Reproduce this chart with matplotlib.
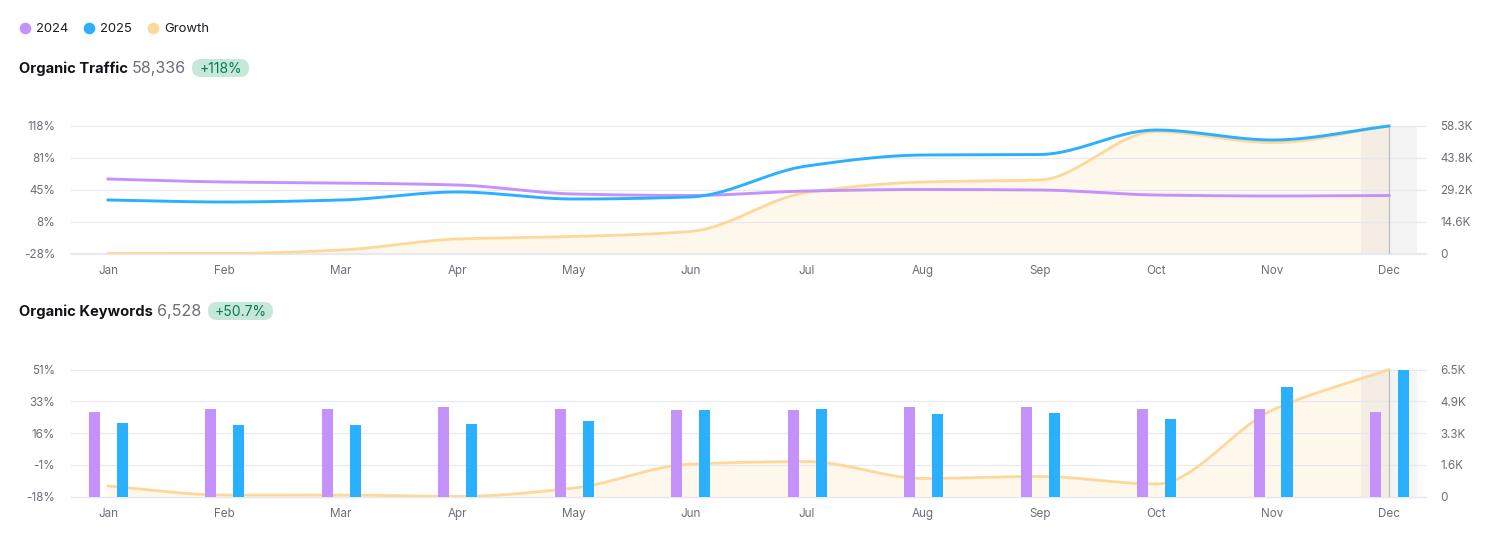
import numpy as np
import matplotlib
matplotlib.use("Agg")
import matplotlib.pyplot as plt
from matplotlib.lines import Line2D
from matplotlib.patches import FancyBboxPatch

plt.rcParams['font.family'] = ['Inter', 'DejaVu Sans']

months = ['Jan', 'Feb', 'Mar', 'Apr', 'May', 'Jun', 'Jul', 'Aug', 'Sep', 'Oct', 'Nov', 'Dec']

traffic_2024 = [34080, 32710, 32250, 31340, 27220, 26535, 28590, 29280, 29050, 26760, 26300, 26535]
traffic_2025 = [24480, 23560, 24480, 28140, 24930, 25850, 40030, 45065, 45290, 56500, 51930, 58336]
traffic_growth = [-28, -28, -24, -11.4, -8.5, -2.8, 41.9, 53.9, 56.2, 111.7, 99, 118]

keywords_2024 = [4318, 4480, 4520, 4590, 4500, 4470, 4446, 4600, 4575, 4498, 4472, 4318]
keywords_2025 = [3778, 3650, 3675, 3701, 3906, 4440, 4498, 4215, 4292, 3984, 5654, 6528]
keywords_growth = [-12.3, -17.2, -17.2, -18, -13.4, -0.4, 1, -8.2, -7.1, -11.2, 29, 51]

traffic_left_ticks = [-28, 8.5, 45, 81.5, 118]
traffic_left_labels = ['-28%', '8%', '45%', '81%', '118%']
traffic_right_ticks = [0, 14584, 29168, 43752, 58336]
traffic_right_labels = ['0', '14.6K', '29.2K', '43.8K', '58.3K']

keywords_left_ticks = [-18, -0.75, 16.5, 33.75, 51]
keywords_left_labels = ['-18%', '-1%', '16%', '33%', '51%']
keywords_right_ticks = [0, 1632, 3264, 4896, 6528]
keywords_right_labels = ['0', '1.6K', '3.3K', '4.9K', '6.5K']

PURPLE, BLUE, GOLD = '#c592fb', '#2ab0ff', '#fdd89b'
GRID, TICK, INK = '#e8e9ee', '#6c6e79', '#121318'
W, H = 1500, 552


def monotone(y, n=40):
    """Monotone cubic rendering of the read values, as the chart's smooth curve."""
    y = np.asarray(y, float)
    x = np.arange(len(y), dtype=float)
    d = np.diff(y)
    m = np.zeros(len(y))
    for i in range(1, len(y) - 1):
        if d[i - 1] * d[i] > 0:
            m[i] = 2 * d[i - 1] * d[i] / (d[i - 1] + d[i])
    m[0], m[-1] = d[0], d[-1]
    xs, ys = [], []
    for i in range(len(y) - 1):
        t = np.linspace(0, 1, n, endpoint=i == len(y) - 2)
        h00 = 2 * t**3 - 3 * t**2 + 1
        h10 = t**3 - 2 * t**2 + t
        h01 = -2 * t**3 + 3 * t**2
        h11 = t**3 - t**2
        xs.append(x[i] + t)
        ys.append(h00 * y[i] + h10 * m[i] + h01 * y[i + 1] + h11 * m[i + 1])
    return np.concatenate(xs), np.concatenate(ys)


def fx(px):
    return px / W


def fy(py):
    return 1 - py / H


def make_panel(top, bottom, growth, lticks, llabels, rticks, rlabels):
    ax = fig.add_axes([fx(71), fy(bottom), (1426 - 71) / W, (bottom - top) / H])
    ax.set_facecolor('none')
    x0 = -37 / 116.45
    ax.set_xlim(x0, 11 - x0)
    ax.set_ylim(lticks[0], lticks[-1])
    ax.set_xticks(range(12), months)
    ax.set_yticks(lticks, llabels)
    ax.tick_params(axis='x', length=0, pad=8.5, labelsize=8.4, labelcolor=TICK)
    ax.tick_params(axis='y', length=0, pad=11.5, labelsize=8.4, labelcolor=TICK)
    ax.grid(axis='y', color=GRID, lw=0.9)
    ax.grid(axis='x', visible=False)
    for g in ax.get_ygridlines():
        g.set_clip_on(False)
    for s in ['top', 'left', 'right']:
        ax.spines[s].set_visible(False)
    ax.spines['bottom'].set_color(GRID)
    ax.spines['bottom'].set_linewidth(0.9)

    gx, gy = monotone(growth)
    ax.fill_between(gx, gy, lticks[0], color=GOLD, alpha=0.2, lw=0, zorder=1)
    ax.axvspan(11 - 0.24, 11 + 0.24, color='#6e7682', alpha=0.075, lw=0, zorder=1.2)
    ax.axvline(11, color='#bcbcbc', lw=0.9, zorder=1.8)
    ax.plot(gx, gy, color=GOLD, lw=2.0, zorder=2, clip_on=False, solid_capstyle='round')

    tw = ax.twinx()
    tw.set_facecolor('none')
    tw.set_yticks(rticks, rlabels)
    tw.set_ylim(rticks[0], rticks[-1])
    tw.tick_params(axis='y', length=0, pad=10.5, labelsize=8.4, labelcolor=TICK)
    tw.grid(False)
    for s in tw.spines.values():
        s.set_visible(False)
    return ax, tw


def header(y, title, title_w, value, badge, badge_x0, badge_x1):
    fig.text(fx(19), fy(y - 1), title, fontsize=10.6, fontweight='bold', color=INK, va='center_baseline')
    fig.text(fx(19 + title_w), fy(y - 1), value, fontsize=11.6, color=TICK, va='center_baseline')
    h = 18
    r = 9
    fig.add_artist(FancyBboxPatch(
        (badge_x0 + r, H - y - h / 2 + r), badge_x1 - badge_x0 - 2 * r, h - 2 * r,
        boxstyle=f'round,pad={r},rounding_size={r}', fc='#c6e8d9', ec='none',
        transform=None))
    fig.text(fx((badge_x0 + badge_x1) / 2), fy(y - 0.5), badge, fontsize=10, color='#0a7a5c',
             ha='center', va='center_baseline')


fig = plt.figure(figsize=(W / 100, H / 100), dpi=100, facecolor='white')

# Organic Traffic
ax1, tw1 = make_panel(126, 253.5, traffic_growth, traffic_left_ticks, traffic_left_labels,
                      traffic_right_ticks, traffic_right_labels)
x, y = monotone(traffic_2024)
tw1.plot(x, y, color=PURPLE, lw=2.1, label='2024', clip_on=False)
x, y = monotone(traffic_2025)
tw1.plot(x, y, color=BLUE, lw=2.1, label='2025', clip_on=False)

# Organic Keywords
ax2, tw2 = make_panel(369.5, 496.5, keywords_growth, keywords_left_ticks, keywords_left_labels,
                      keywords_right_ticks, keywords_right_labels)
pos = np.arange(12) + 0.004
tw2.bar(pos - 0.12, keywords_2024, width=0.095, color=PURPLE, zorder=3)
tw2.bar(pos + 0.12, keywords_2025, width=0.095, color=BLUE, zorder=3)

header(68, 'Organic Traffic', 113, '58,336', '+118%', 192, 249)
header(311, 'Organic Keywords', 138, '6,528', '+50.7%', 208, 273)

handles = [Line2D([], [], ls='none', marker='o', ms=8.4, mfc=c, mec='none', label=l)
           for c, l in [(PURPLE, '2024'), (BLUE, '2025'), (GOLD, 'Growth')]]
fig.legend(handles=handles, loc='center left', bbox_to_anchor=(fx(18), fy(29)), ncol=3,
           frameon=False, fontsize=9.4, labelcolor='#1b1d24', handlelength=1.0,
           handletextpad=0.36, columnspacing=1.1, borderpad=0, borderaxespad=0)

fig.savefig('out.png', dpi=100)
